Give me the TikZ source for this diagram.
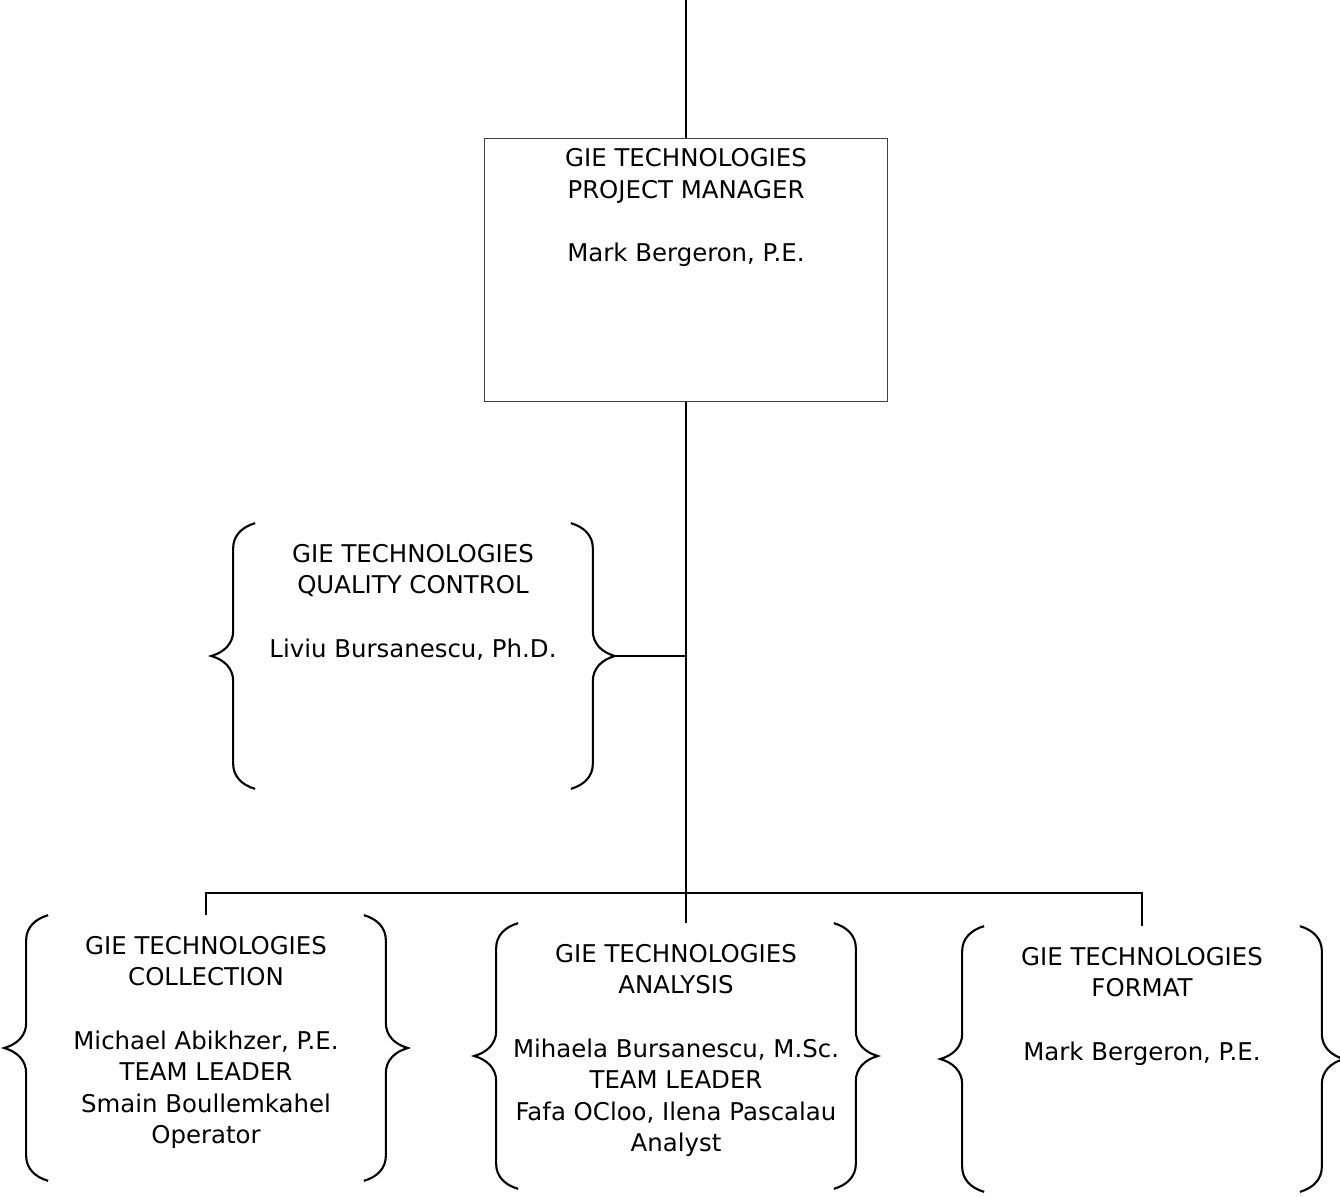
\documentclass[tikz,border=0pt]{standalone}
\usepackage{fontspec}
\setmainfont{DejaVu Sans}
\usepackage{tikz}
\usetikzlibrary{positioning,decorations.pathreplacing}
\tikzset{%
  block/.style = {draw=black!75, line width=1pt, rectangle, minimum width=8.06cm,
    minimum height=5.26cm},
  group/.style = {rectangle, minimum width=6.28cm, minimum height=5.28cm}, % frame between braces
  txt/.style   = {align=center, inner sep=0pt, font=\fontsize{13.9}{18}\selectfont},
  curly/.style = {decorate, line width=1.2pt,
    decoration={brace, amplitude=0.5cm, transform={yscale=1.76}}}
}

\begin{document}
\begin{tikzpicture}[x=0.02cm, y=-0.02cm, line width=1pt]
\useasboundingbox (0,0) rectangle (1340,1197);
\draw
	node at(686,270)[block, name=pm]{}
	node [txt, name=pmtext, below=0.2cm of pm.north]{GIE TECHNOLOGIES\\PROJECT MANAGER\\[18pt]Mark Bergeron, P.E.};
\draw
	node at(413,656)[group, name=qc]{}
	node [txt, name=qctext, below=0.4cm of qc.north]{GIE TECHNOLOGIES\\QUALITY CONTROL\\[18pt]Liviu Bursanescu, Ph.D.};
\draw
	node at(206,1048)[group, name=coll]{}
	node [txt, name=colltext, below=0.4cm of coll.north]{GIE TECHNOLOGIES\\COLLECTION\\[18pt]Michael Abikhzer, P.E.\\TEAM LEADER\\Smain Boullemkahel\\Operator};
\draw
	node at(676,1056)[group, name=anal]{}
	node [txt, name=analtext, below=0.4cm of anal.north]{GIE TECHNOLOGIES\\ANALYSIS\\[18pt]Mihaela Bursanescu, M.Sc.\\TEAM LEADER\\Fafa OCloo, Ilena Pascalau\\Analyst};
\draw
	node at(1142,1059)[group, name=fmt]{}
	node [txt, name=fmttext, below=0.4cm of fmt.north]{GIE TECHNOLOGIES\\FORMAT\\[18pt]Mark Bergeron, P.E.};
% braces round each group
\foreach \g in {qc,coll,anal,fmt}{
	\draw[curly] (\g.south west) -- (\g.north west);
	\draw[curly] (\g.north east) -- (\g.south east);
}
\coordinate (top) at (686,0);
\coordinate (qctip) at ([xshift=0.88cm]qc.east);
\coordinate (bus) at (686,893);
	\draw (top) -- (pm.north);
	\draw (pm.south) -- (pm.south |- anal.north);
	\draw (qctip) -- (qctip -| pm.south);
	\draw (coll.north) -- (coll.north |- bus) -- (fmt.north |- bus) -- (fmt.north);
\end{tikzpicture}
\end{document}
